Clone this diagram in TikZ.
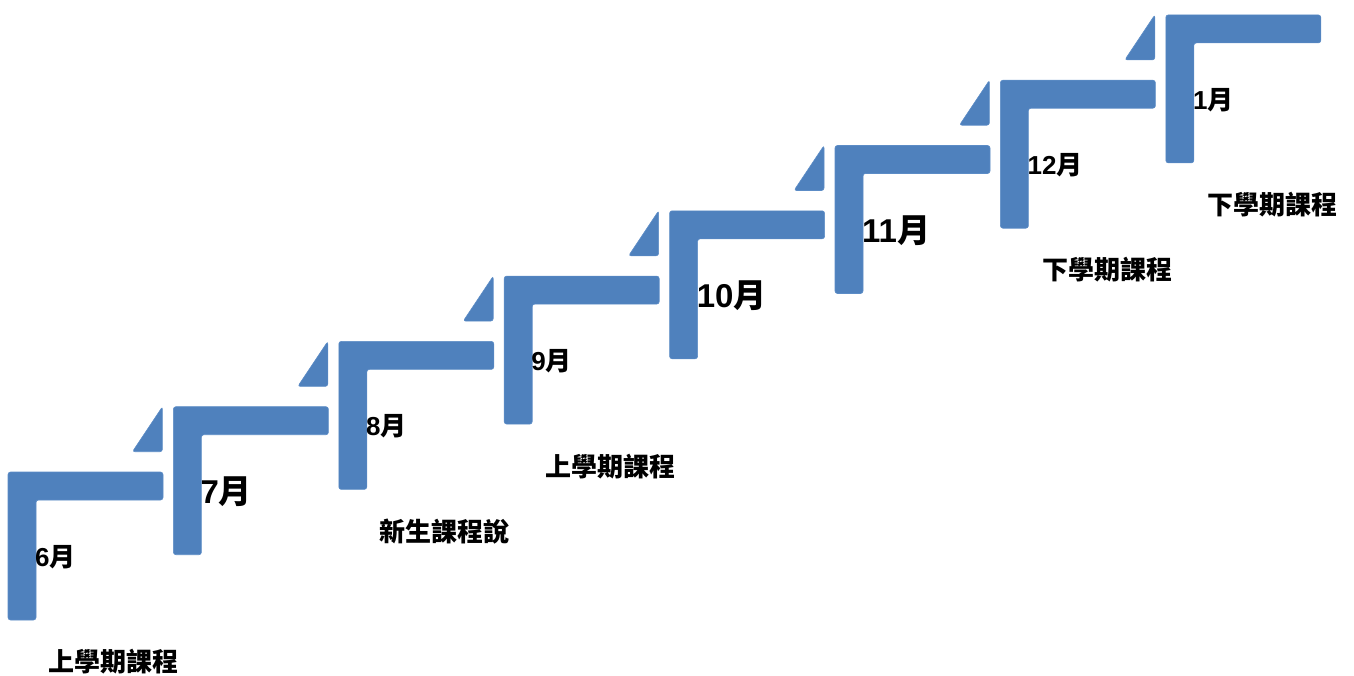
\documentclass[tikz,border=0pt]{standalone}
\usepackage{fontspec}
\setmainfont{Liberation Sans}
\newfontfamily\cjk{Noto Sans CJK TC}
\definecolor{stairblue}{HTML}{4F81BD}
\definecolor{stairedge}{HTML}{5C8CC6}
\begin{document}
\begin{tikzpicture}[x=1pt,y=-1pt,
  stair/.style={fill=stairblue, draw=stairedge, line width=0.6pt, rounded corners=2.5pt},
  smallm/.style={font=\fontsize{26}{30}\selectfont\bfseries, inner sep=0pt, anchor=west},
  bigm/.style={font=\fontsize{33}{38}\selectfont\bfseries, inner sep=0pt, anchor=west},
  course/.style={font=\fontsize{26}{30}\selectfont\bfseries\cjk, inner sep=0pt}]
\useasboundingbox (0,0) rectangle (1354,675);
\foreach \k/\m/\st in {0/6/smallm,1/7/bigm,2/8/smallm,3/9/smallm,4/10/bigm,5/11/bigm,6/12/smallm,7/1/smallm} {
  \pgfmathsetmacro\X{8+165.4*\k}
  \pgfmathsetmacro\Y{472-65.3*\k}
  \path[stair] (\X,\Y) -- ++(155,0) -- ++(0,28) -- ++(-127,0) -- ++(0,120) -- ++(-28,0) -- cycle;
  \ifnum\k>0
    \path[stair] (\X-11,\Y) -- (\X-11,\Y+45) -- (\X-41,\Y+45) -- cycle;
  \fi
  \node[\st] (m\k) at (\X+27,\Y+85) {\m{\cjk 月}};
}
\node[course] (c1) at (113,662) {上學期課程};
\node[course] (c2) at (444,532) {新生課程說};
\node[course] (c3) at (610,467) {上學期課程};
\node[course] (c4) at (1107,270) {下學期課程};
\node[course] (c5) at (1272,205) {下學期課程};
\end{tikzpicture}
\end{document}
